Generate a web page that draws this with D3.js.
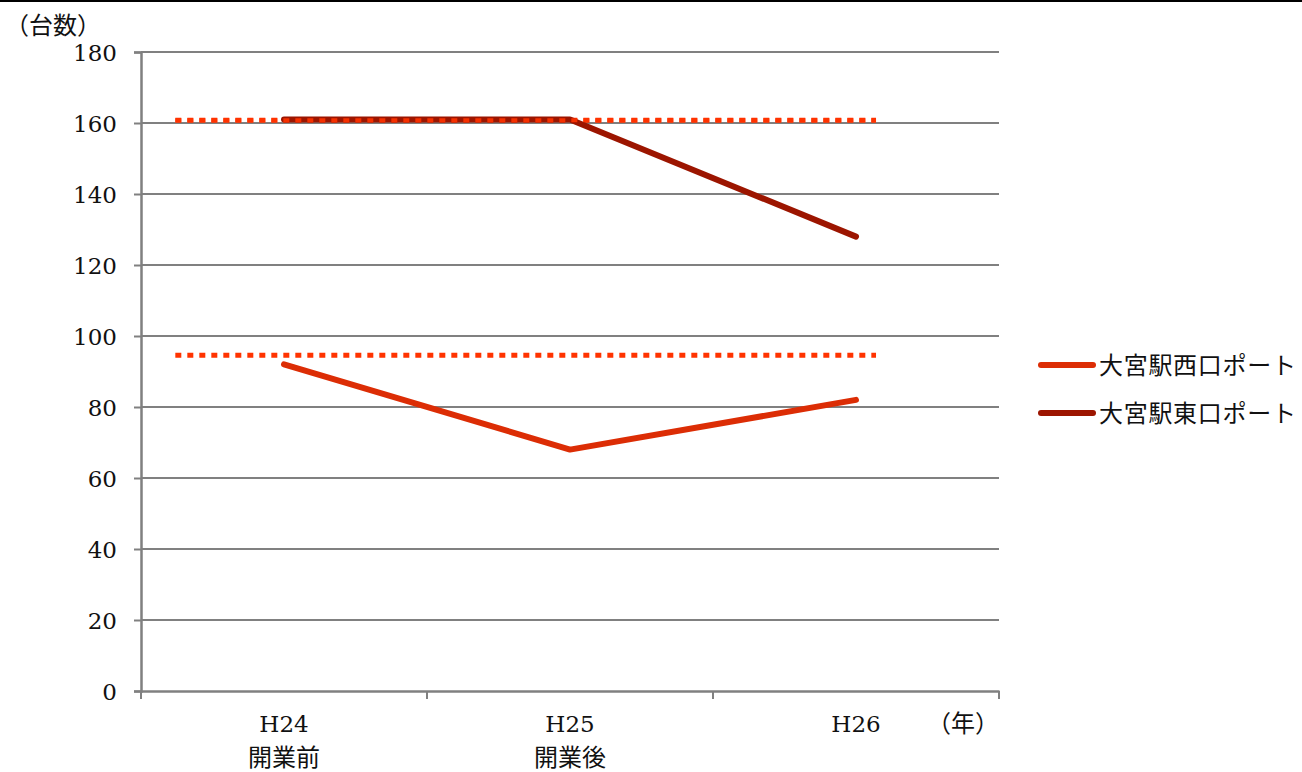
<!DOCTYPE html>
<html><head><meta charset="utf-8">
<script src="https://cdn.jsdelivr.net/npm/d3@7"></script>
<style>
body{margin:0;background:#fff;}
text{font-family:"DejaVu Serif","Liberation Serif",serif;fill:#111;}
.jp{font-family:"Noto Sans CJK JP",sans-serif;}
</style></head>
<body>
<svg id="c" width="1302" height="772"></svg>
<script>
const categories = ["H24", "H25", "H26"];
const subLabels = ["開業前", "開業後", ""];
const seriesNames = ["大宮駅西口ポート", "大宮駅東口ポート"];
const westValues = [92, 68, 82];
const eastValues = [161, 161, 128];
const refValues = [160.8, 94.6];
const yTicks = [0, 20, 40, 60, 80, 100, 120, 140, 160, 180];
const colors = ["#dc2d05", "#9c1500"];
const refColor = "#ff3300";

const svg = d3.select("#c");
const m = {left:141, right:999, top:52, bottom:691};
const x = d3.scaleBand().domain(categories).range([m.left, m.right]);
const y = d3.scaleLinear().domain([0,180]).range([m.bottom, m.top]);

// top border
svg.append("line").attr("x1",0).attr("x2",1302).attr("y1",1).attr("y2",1).attr("stroke","#000").attr("stroke-width",2);

// gridlines
svg.append("g").selectAll("line").data(yTicks.filter(d=>d>0)).join("line")
  .attr("x1",m.left).attr("x2",m.right).attr("y1",d=>y(d)).attr("y2",d=>y(d))
  .attr("stroke","#808080").attr("stroke-width",2);

// y axis
const ya = svg.append("g").attr("transform",`translate(${m.left},0)`)
  .call(d3.axisLeft(y).tickValues(yTicks).tickSize(7).tickPadding(17));
ya.attr("font-size",null).attr("font-family",null);
ya.select(".domain").attr("stroke","#808080").attr("stroke-width",2.5);
ya.selectAll(".tick line").attr("stroke","#808080").attr("stroke-width",2);
ya.selectAll(".tick text").style("font-size","23px").style("font-family","'DejaVu Serif',serif").attr("fill","#111").attr("dy","0.36em");

// x axis
const xa = svg.append("g").attr("transform",`translate(0,${m.bottom})`)
  .call(d3.axisBottom(x).tickValues([]).tickSize(0));
xa.select(".domain").attr("stroke","#808080").attr("stroke-width",2.5);
const bounds = categories.map(c=>x(c)).concat([m.right]);
xa.selectAll(".bt").data(bounds).join("line").attr("class","bt")
  .attr("x1",d=>d).attr("x2",d=>d).attr("y1",0).attr("y2",8)
  .attr("stroke","#808080").attr("stroke-width",2);

const xl = svg.append("g");
categories.forEach((c,i)=>{
  const cx = x(c)+x.bandwidth()/2;
  xl.append("text").attr("x",cx).attr("y",732).attr("text-anchor","middle")
    .style("font-size","23px").text(c);
  if(subLabels[i]) xl.append("text").attr("class","jp").attr("x",cx).attr("y",766).attr("text-anchor","middle")
    .style("font-size","24px").text(subLabels[i]);
});
svg.append("text").attr("class","jp").attr("x",999).attr("y",732).attr("text-anchor","end")
  .style("font-size","24px").text("（年）");
svg.append("text").attr("class","jp").attr("x",5).attr("y",34)
  .style("font-size","24px").text("（台数）");

// reference dotted lines
const refX0 = x(categories[0]) + x.bandwidth()*0.12;
const refX1 = x(categories[2]) + x.bandwidth()*0.57;
svg.append("g").selectAll("line").data(refValues).join("line")
  .attr("x1",refX0).attr("x2",refX1).attr("y1",d=>y(d)).attr("y2",d=>y(d))
  .attr("stroke",refColor).attr("stroke-width",5).attr("stroke-dasharray","6,6");

// series lines
const line = d3.line().x((d,i)=>x(categories[i])+x.bandwidth()/2).y(d=>y(d));
[westValues, eastValues].forEach((vals,k)=>{
  svg.append("path").attr("d",line(vals)).attr("fill","none")
    .attr("stroke",colors[k]).attr("stroke-width",6).attr("stroke-linecap","round").attr("stroke-linejoin","round");
});
// redraw dotted over east segment
svg.append("line").attr("x1",refX0).attr("x2",refX1).attr("y1",y(refValues[0])).attr("y2",y(refValues[0]))
  .attr("stroke",refColor).attr("stroke-width",4).attr("stroke-dasharray","6,6").attr("opacity",0.9);

// legend
const lg = svg.append("g");
seriesNames.forEach((n,i)=>{
  const ly = 365 + i*48;
  lg.append("line").attr("x1",1041).attr("x2",1093).attr("y1",ly).attr("y2",ly)
    .attr("stroke",colors[i]).attr("stroke-width",6).attr("stroke-linecap","round");
  lg.append("text").attr("class","jp").attr("x",1099).attr("y",ly+9)
    .style("font-size","24px").style("letter-spacing","0.7px").text(n);
});
</script>
</body></html>
